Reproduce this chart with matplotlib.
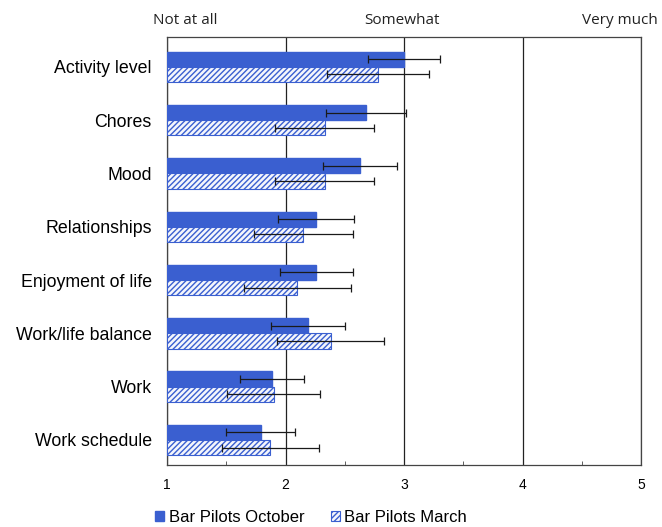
import matplotlib.pyplot as plt
import numpy as np
from matplotlib.ticker import MultipleLocator

categories = ["Activity level", "Chores", "Mood", "Relationships",
              "Enjoyment of life", "Work/life balance", "Work", "Work schedule"]
october = [3.00, 2.68, 2.63, 2.26, 2.26, 2.19, 1.89, 1.79]
october_err = [0.30, 0.34, 0.31, 0.32, 0.31, 0.31, 0.27, 0.29]
march = [2.78, 2.33, 2.33, 2.15, 2.10, 2.38, 1.90, 1.87]
march_err = [0.43, 0.42, 0.42, 0.42, 0.45, 0.45, 0.39, 0.41]
scale_labels = ["Not at all", "Somewhat", "Very much"]

blue = "#3a5fd0"
plt.rcParams["hatch.color"] = blue
plt.rcParams["hatch.linewidth"] = 1.0

fig = plt.figure(figsize=(6.62, 5.27), dpi=100)
ax = fig.add_axes([0.2523, 0.1176, 0.7160, 0.8122])

y = np.arange(len(categories))
h = 0.285
err_kw = dict(ecolor="#1a1a1a", elinewidth=0.9, capsize=3, capthick=0.9)
ax.barh(y - h / 2, np.array(october) - 1, height=h, left=1, color=blue,
        edgecolor=blue, xerr=october_err, error_kw=err_kw,
        label="Bar Pilots October", zorder=3)
ax.barh(y + h / 2, np.array(march) - 1, height=h, left=1, color="#f4f6fc",
        edgecolor=blue, linewidth=0.8, hatch="//////", xerr=march_err,
        error_kw=err_kw, label="Bar Pilots March", zorder=3)

ax.set_xlim(1, 5)
ax.set_ylim(7.47, -0.56)
ax.set_yticks(y)
ax.set_yticklabels(categories, fontsize=12.8, family="Liberation Sans")
ax.tick_params(axis="y", length=0, pad=11)
ax.xaxis.set_major_locator(MultipleLocator(1))
ax.xaxis.set_minor_locator(MultipleLocator(0.5))
ax.tick_params(axis="x", which="major", length=0, pad=9, labelsize=10)
ax.tick_params(axis="x", which="minor", direction="in", length=3, color="#444444")
for lab in ax.get_xticklabels():
    lab.set_family("Liberation Sans")
ax.grid(axis="x", which="major", color="#222222", linewidth=0.9, zorder=1)
for s in ax.spines.values():
    s.set_color("#444444")
    s.set_linewidth(0.9)

for label, xpos in zip(scale_labels, [0.28, 0.607, 0.937]):
    fig.text(xpos, 0.962, label, ha="center", va="center", fontsize=11,
             family="Open Sans", color="#222222")

fig.legend(loc="lower center", bbox_to_anchor=(0.47, -0.025), ncol=2,
           frameon=False, prop={"family": "Liberation Sans", "size": 12},
           handlelength=0.55, handleheight=0.55, handletextpad=0.25,
           columnspacing=1.6)

fig.savefig("out.png", dpi=100)
